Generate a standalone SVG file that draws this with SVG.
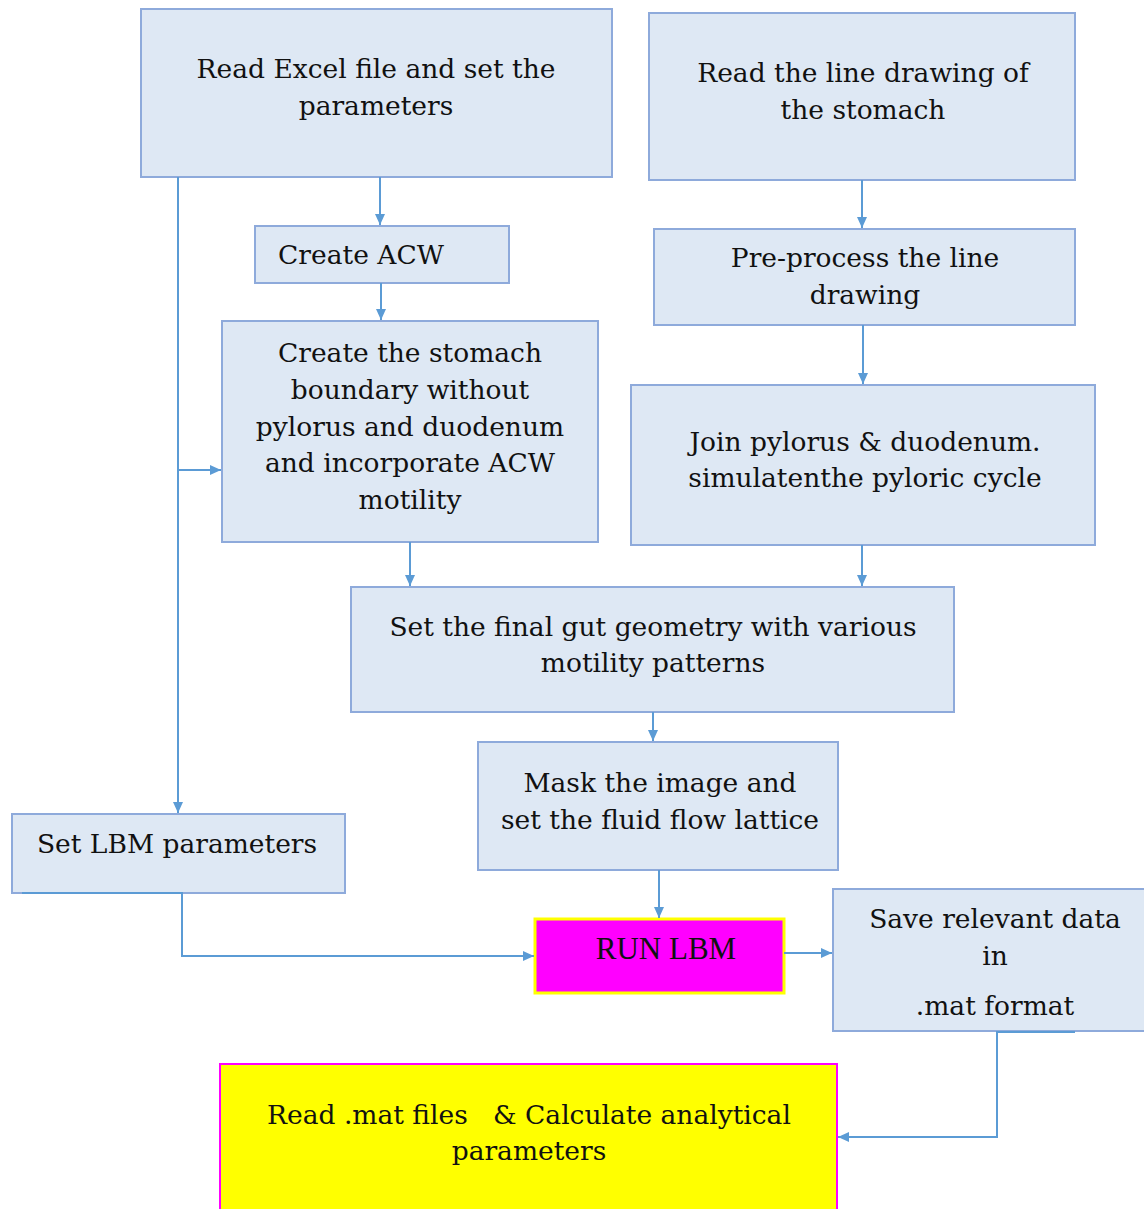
<svg xmlns="http://www.w3.org/2000/svg" width="1144" height="1209" viewBox="0 0 1144 1209">
  <style>
    .box { fill: #dee8f4; stroke: #8eaadb; stroke-width: 2; }
    .run { fill: #ff00ff; stroke: #ffff00; stroke-width: 3; }
    .calc { fill: #ffff00; stroke: #ff00ff; stroke-width: 2; }
    .t { font-family: "DejaVu Serif", "Liberation Serif", serif; font-size: 26.5px; fill: #111; text-anchor: middle; }
    .tr { font-family: "Liberation Serif", serif; font-size: 31px; fill: #111; text-anchor: middle; }
    .c { fill: none; stroke: #5b9bd5; stroke-width: 2; }
  </style>
  <defs>
    <marker id="ah" markerWidth="12" markerHeight="12" refX="11" refY="6" orient="auto" markerUnits="userSpaceOnUse">
      <path d="M0,1 L11,6 L0,11 Z" fill="#5b9bd5"/>
    </marker>
  </defs>

  <g id="read-excel">
    <rect class="box" x="141" y="9" width="471" height="168"/>
    <text class="t" x="376" y="78">Read Excel file and set the</text>
    <text class="t" x="376" y="115">parameters</text>
  </g>
  <g id="read-drawing">
    <rect class="box" x="649" y="13" width="426" height="167"/>
    <text class="t" x="863" y="82">Read the line drawing of</text>
    <text class="t" x="863" y="119">the stomach</text>
  </g>
  <g id="create-acw">
    <rect class="box" x="255" y="226" width="254" height="57"/>
    <text class="t" x="361" y="264">Create ACW</text>
  </g>
  <g id="preprocess">
    <rect class="box" x="654" y="229" width="421" height="96"/>
    <text class="t" x="865" y="267">Pre-process the line</text>
    <text class="t" x="865" y="304">drawing</text>
  </g>
  <g id="stomach-boundary">
    <rect class="box" x="222" y="321" width="376" height="221"/>
    <text class="t" x="410" y="362">Create the stomach</text>
    <text class="t" x="410" y="399">boundary without</text>
    <text class="t" x="410" y="436">pylorus and duodenum</text>
    <text class="t" x="410" y="472">and incorporate ACW</text>
    <text class="t" x="410" y="509">motility</text>
  </g>
  <g id="join-pylorus">
    <rect class="box" x="631" y="385" width="464" height="160"/>
    <text class="t" x="865" y="451">Join pylorus &amp; duodenum.</text>
    <text class="t" x="865" y="487">simulatenthe pyloric cycle</text>
  </g>
  <g id="final-geometry">
    <rect class="box" x="351" y="587" width="603" height="125"/>
    <text class="t" x="653" y="636">Set the final gut geometry with various</text>
    <text class="t" x="653" y="672">motility patterns</text>
  </g>
  <g id="mask-lattice">
    <rect class="box" x="478" y="742" width="360" height="128"/>
    <text class="t" x="660" y="792">Mask the image and</text>
    <text class="t" x="660" y="829">set the fluid flow lattice</text>
  </g>
  <g id="lbm-params">
    <rect class="box" x="12" y="814" width="333" height="79"/>
    <text class="t" x="177" y="853">Set LBM parameters</text>
  </g>
  <g id="run-lbm">
    <rect class="run" x="535" y="919" width="249" height="74"/>
    <text class="tr" x="666" y="959">RUN LBM</text>
  </g>
  <g id="save-data">
    <rect class="box" x="833" y="889" width="320" height="142"/>
    <text class="t" x="995" y="928">Save relevant data</text>
    <text class="t" x="995" y="965">in</text>
    <text class="t" x="995" y="1015">.mat format</text>
  </g>
  <g id="analysis">
    <rect class="calc" x="220" y="1064" width="617" height="160"/>
    <text class="t" x="529" y="1124" xml:space="preserve">Read .mat files   &amp; Calculate analytical</text>
    <text class="t" x="529" y="1160">parameters</text>
  </g>

  <g id="connectors">
    <path class="c" d="M380,177 V225" marker-end="url(#ah)"/>
    <path class="c" d="M381,283 V320" marker-end="url(#ah)"/>
    <path class="c" d="M178,177 V813" marker-end="url(#ah)"/>
    <path class="c" d="M178,470 H221" marker-end="url(#ah)"/>
    <path class="c" d="M862,180 V228" marker-end="url(#ah)"/>
    <path class="c" d="M863,325 V384" marker-end="url(#ah)"/>
    <path class="c" d="M410,542 V586" marker-end="url(#ah)"/>
    <path class="c" d="M862,545 V586" marker-end="url(#ah)"/>
    <path class="c" d="M653,712 V741" marker-end="url(#ah)"/>
    <path class="c" d="M659,870 V918" marker-end="url(#ah)"/>
    <path class="c" d="M22,893 H182 V956 H534" marker-end="url(#ah)"/>
    <path class="c" d="M784,953 H832" marker-end="url(#ah)"/>
    <path class="c" d="M1075,1032 H997 V1137 H838" marker-end="url(#ah)"/>
  </g>
</svg>
